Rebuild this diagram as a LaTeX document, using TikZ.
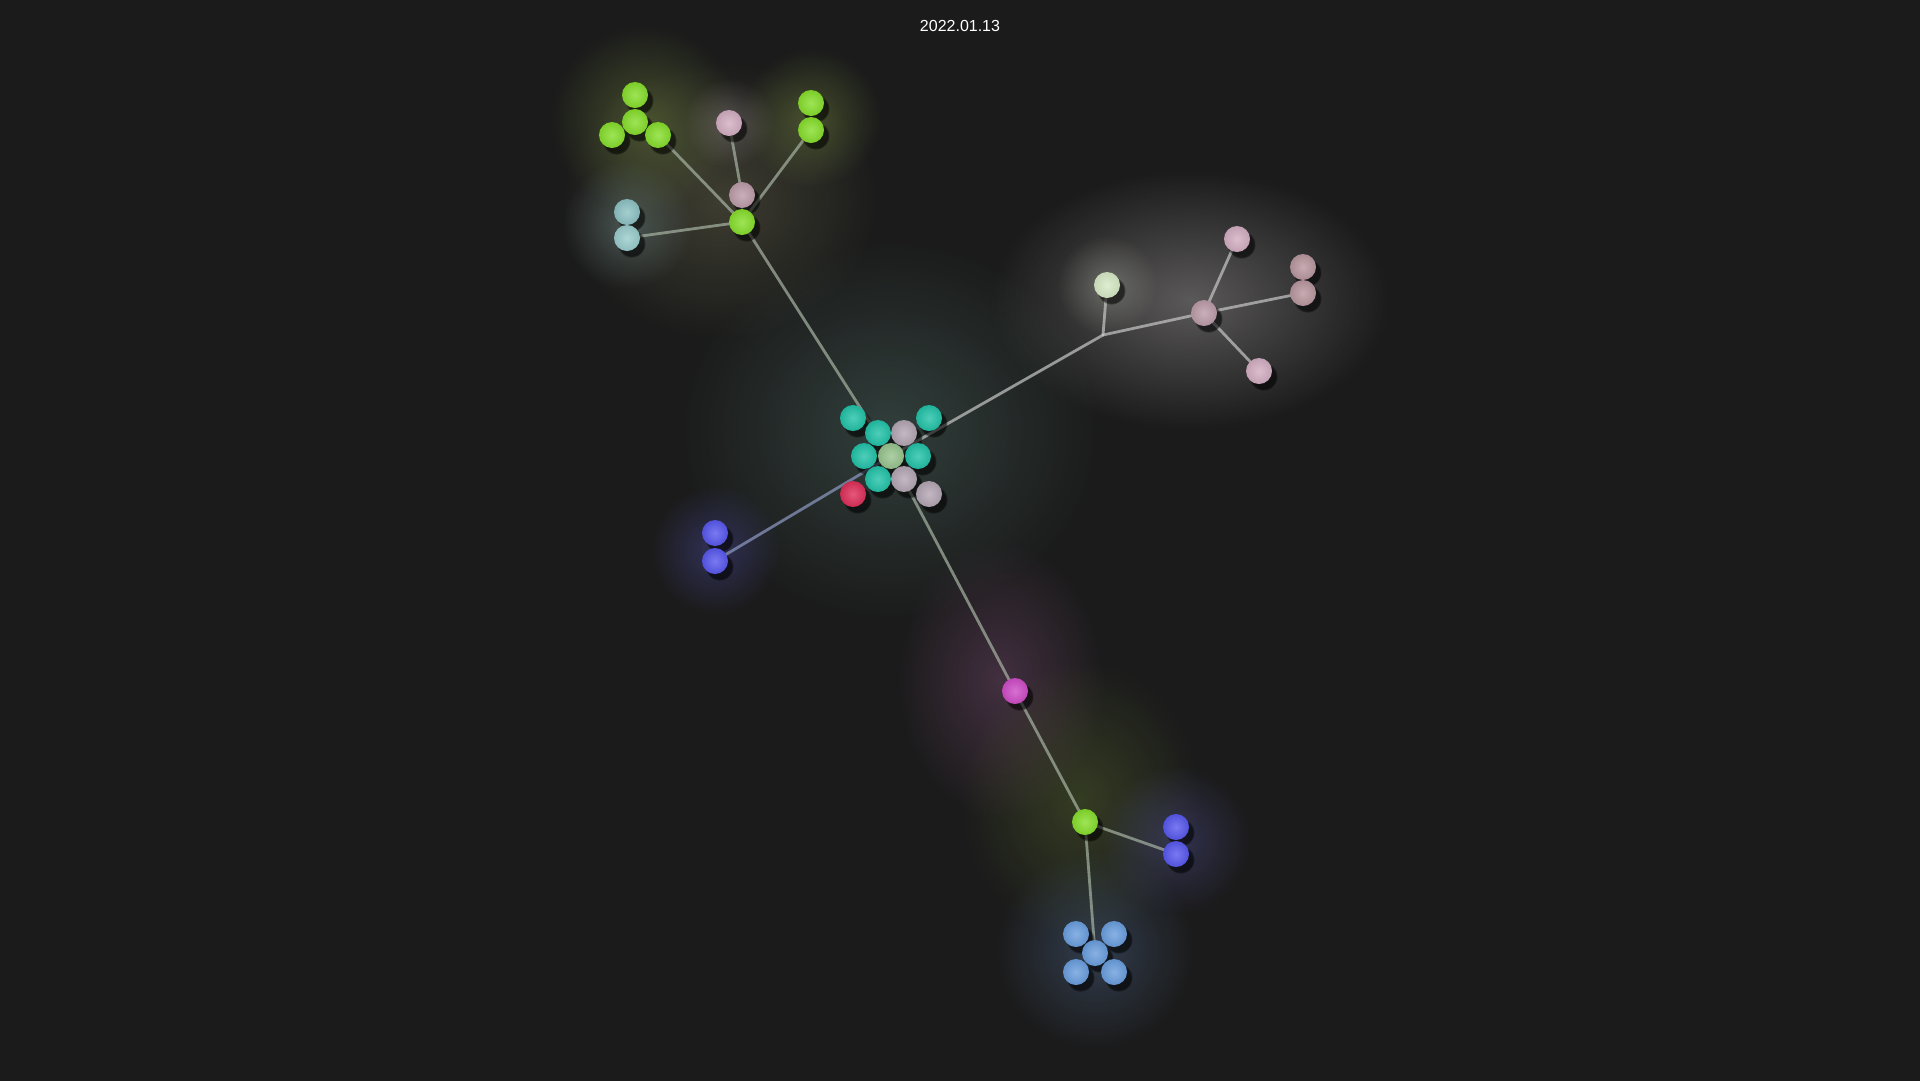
\documentclass[tikz,border=0pt]{standalone}
\usepackage{fontspec}
\setmainfont{Liberation Sans}
\usetikzlibrary{shadows,fadings}
\pgfdeclarelayer{glow}
\pgfdeclarelayer{edges}
\pgfsetlayers{glow,edges,main}
\definecolor{bg}{HTML}{1B1B1B}
\definecolor{cgreen}{HTML}{86DE2C}
\definecolor{cpink}{HTML}{D2AEC2}
\definecolor{cpinkd}{HTML}{BC9CA8}
\definecolor{cpinkm}{HTML}{B9979F}
\definecolor{ccyan}{HTML}{8EC2C4}
\definecolor{ccyanl}{HTML}{9ACCCC}
\definecolor{cteal}{HTML}{22C2A8}
\definecolor{cgrey}{HTML}{B4A6B4}
\definecolor{clgreen}{HTML}{98C48E}
\definecolor{cred}{HTML}{DE2E58}
\definecolor{cblue}{HTML}{5858EE}
\definecolor{cmag}{HTML}{CE4CC6}
\definecolor{clblue}{HTML}{6A9EDE}
\definecolor{cpale}{HTML}{D6EAC6}
\definecolor{cedge}{HTML}{A4B0A0}
\definecolor{cedgew}{HTML}{C4C4C4}
\definecolor{cedgeb}{HTML}{8C98C0}
\definecolor{gcenter}{RGB}{90,130,120}
\definecolor{ghub}{RGB}{140,140,100}
\definecolor{ggreen}{RGB}{160,190,80}
\definecolor{gpink}{RGB}{210,190,200}
\definecolor{gcyan}{RGB}{150,190,190}
\definecolor{gwhite}{RGB}{195,190,190}
\definecolor{gpale}{RGB}{230,240,220}
\definecolor{gblue}{RGB}{100,100,230}
\definecolor{gmag}{RGB}{170,100,160}
\definecolor{golive}{RGB}{130,160,60}
\definecolor{gblue2}{RGB}{110,110,220}
\definecolor{glblue}{RGB}{110,150,210}
\tikzfading[name=softglow, inner color=transparent!0, outer color=transparent!100]
\tikzset{
  ball/.style={circle, minimum size=26pt, inner sep=0pt,
    circular drop shadow={shadow xshift=4pt, shadow yshift=-5pt, opacity=0.6, fill=black, shadow scale=1.1},
    inner color=#1!80!white, outer color=#1!92!black},
  link/.style={draw=cedge, line width=2.8pt, opacity=0.72, line cap=round},
  glowc/.style={fill=#1, path fading=softglow}
}
\begin{document}
\begin{tikzpicture}[x=1pt,y=-1pt]
\useasboundingbox (0,0) rectangle (1920,1080);
\node[text=white, font=\fontsize{16pt}{18pt}\selectfont] (title) at (960,26) {2022.01.13};

% background and glows
\begin{pgfonlayer}{glow}
\fill[bg] (-2,-2) rectangle (1922,1082);
\fill[glowc=gcenter, opacity=0.35] (890,430) ellipse [x radius=210, y radius=190];
\fill[glowc=ghub, opacity=0.3] (720,200) ellipse [x radius=160, y radius=140];
\fill[glowc=ggreen, opacity=0.3] (645,120) circle [radius=95];
\fill[glowc=ggreen, opacity=0.3] (811,118) circle [radius=70];
\fill[glowc=gpink, opacity=0.25] (729,123) circle [radius=45];
\fill[glowc=gcyan, opacity=0.3] (627,225) circle [radius=65];
\fill[glowc=gwhite, opacity=0.38] (1190,300) ellipse [x radius=200, y radius=130];
\fill[glowc=gpale, opacity=0.25] (1107,285) circle [radius=50];
\fill[glowc=gblue, opacity=0.3] (715,550) circle [radius=65];
\fill[glowc=gmag, opacity=0.28] (1000,680) ellipse [x radius=105, y radius=140];
\fill[glowc=golive, opacity=0.25] (1080,800) ellipse [x radius=120, y radius=140];
\fill[glowc=gblue2, opacity=0.28] (1176,840) circle [radius=75];
\fill[glowc=glblue, opacity=0.28] (1095,950) circle [radius=100];
\end{pgfonlayer}

% top-left group
\node[ball=cgreen] (g1) at (635,95) {};
\node[ball=cgreen] (g2) at (635,122) {};
\node[ball=cgreen] (g3) at (612,135) {};
\node[ball=cgreen] (g4) at (658,135) {};
\node[ball=cpink] (pk1) at (729,123) {};
\node[ball=cpinkd] (pk2) at (742,195) {};
\node[ball=cgreen] (hubA) at (742,222) {};
\node[ball=cgreen] (g5) at (811,103) {};
\node[ball=cgreen] (g6) at (811,130) {};
\node[ball=ccyan] (c1) at (627,212) {};
\node[ball=ccyanl] (c2) at (627,238) {};

% center cluster
\node[ball=cteal] (t1) at (853,418) {};
\node[ball=cteal] (t2) at (929,418) {};
\node[ball=cteal] (t3) at (878,433) {};
\node[ball=cgrey] (gr1) at (904,433) {};
\node[ball=cteal] (t4) at (864,456) {};
\node[ball=clgreen] (m) at (891,456) {};
\node[ball=cteal] (t5) at (918,456) {};
\node[ball=cteal] (t6) at (878,479) {};
\node[ball=cgrey] (gr2) at (904,479) {};
\node[ball=cred] (red) at (853,494) {};
\node[ball=cgrey] (gr3) at (929,494) {};

% right group
\coordinate (j) at (1103,335);
\node[ball=cpale] (lg) at (1107,285) {};
\node[ball=cpinkd] (ph) at (1204,313) {};
\node[ball=cpink] (pa) at (1237,239) {};
\node[ball=cpinkm] (pb) at (1303,267) {};
\node[ball=cpinkm] (pc) at (1303,293) {};
\node[ball=cpink] (pd) at (1259,371) {};

% left blue
\node[ball=cblue] (b1) at (715,533) {};
\node[ball=cblue] (b2) at (715,561) {};

% lower branch
\node[ball=cmag] (mg) at (1015,691) {};
\node[ball=cgreen] (hubB) at (1085,822) {};
\node[ball=cblue] (bb1) at (1176,827) {};
\node[ball=cblue] (bb2) at (1176,854) {};
\node[ball=clblue] (lb1) at (1076,934) {};
\node[ball=clblue] (lb2) at (1114,934) {};
\node[ball=clblue] (lb3) at (1095,953) {};
\node[ball=clblue] (lb4) at (1076,972) {};
\node[ball=clblue] (lb5) at (1114,972) {};

% connectors
\begin{pgfonlayer}{edges}
\draw[link] (hubA.center) -- (g4.center);
\draw[link] (hubA.center) -- (pk2.center);
\draw[link] (pk2.center) -- (pk1.center);
\draw[link] (hubA.center) -- (g6.center);
\draw[link] (hubA.center) -- (c2.center);
\draw[link] (hubA.center) -- (m.center);
\draw[link, draw=cedgew] (m.center) -- (j);
\draw[link, draw=cedgew] (j) -- (lg.center);
\draw[link, draw=cedgew] (j) -- (ph.center);
\draw[link, draw=cedgew] (ph.center) -- (pa.center);
\draw[link, draw=cedgew] (ph.center) -- (pc.center);
\draw[link, draw=cedgew] (ph.center) -- (pd.center);
\draw[link, draw=cedgeb] (m.center) -- (b2.center);
\draw[link] (m.center) -- (mg.center);
\draw[link] (mg.center) -- (hubB.center);
\draw[link] (hubB.center) -- (bb2.center);
\draw[link] (hubB.center) -- (lb3.center);
\end{pgfonlayer}
\end{tikzpicture}
\end{document}
